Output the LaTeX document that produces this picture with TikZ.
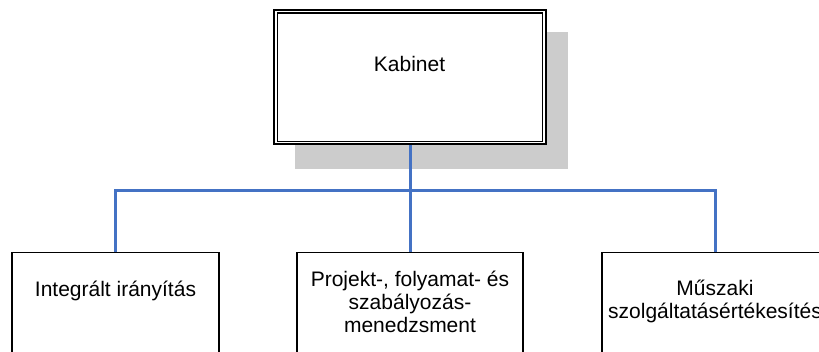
\documentclass[tikz,border=0pt]{standalone}
\usepackage{fontspec}
\setmainfont{Liberation Sans}
\definecolor{connblue}{RGB}{68,114,196}
\definecolor{shadegray}{RGB}{204,204,204}
\begin{document}
\begin{tikzpicture}[x=1pt,y=-1pt,
  lbl/.style={font=\fontsize{21}{22.7}\selectfont, inner sep=0pt, align=center},
  unitbox/.style={draw=black, line width=1.5pt, fill=white, minimum height=130pt, anchor=north, inner sep=0pt},
  conn/.style={draw=connblue, line width=3pt}]
\useasboundingbox (0,0) rectangle (819,352);
\clip (0,0) rectangle (819,352);
% shadow
\node[fill=shadegray, minimum width=273pt, minimum height=137pt, anchor=north west, inner sep=0pt] (shadow) at (295,32) {};
% Kabinet double box
\node[draw=black, fill=white, line width=2pt, minimum width=271.4pt, minimum height=134.4pt, inner sep=0pt] (kab) at (410,77) {};
\node[draw=black, line width=1.3pt, minimum width=264.7pt, minimum height=128.5pt, inner sep=0pt] (kabin) at (410,77.25) {};
\node[lbl, anchor=base] (tkab) at (409.5,72) {Kabinet};
% units
\node[unitbox, minimum width=207pt] (b1) at (115.5,252) {};
\node[unitbox, minimum width=226pt] (b2) at (410,252) {};
\node[unitbox, minimum width=226pt] (b3) at (715,252) {};
\node[lbl, anchor=base] (t1) at (115.5,297) {Integrált irányítás};
\node[lbl, anchor=base] (t2) at (410,332.4) {Projekt-, folyamat- és\\szabályozás-\\menedzsment};
\node[lbl, anchor=base] (t3) at (715,318.5) {Műszaki\\szolgáltatásértékesítés};
% connectors
\coordinate (jn) at (410,191);
\draw[conn] (kab.south) -- (b2.north);
\draw[conn] (b1.north) |- (jn) -| (b3.north);
\end{tikzpicture}
\end{document}
